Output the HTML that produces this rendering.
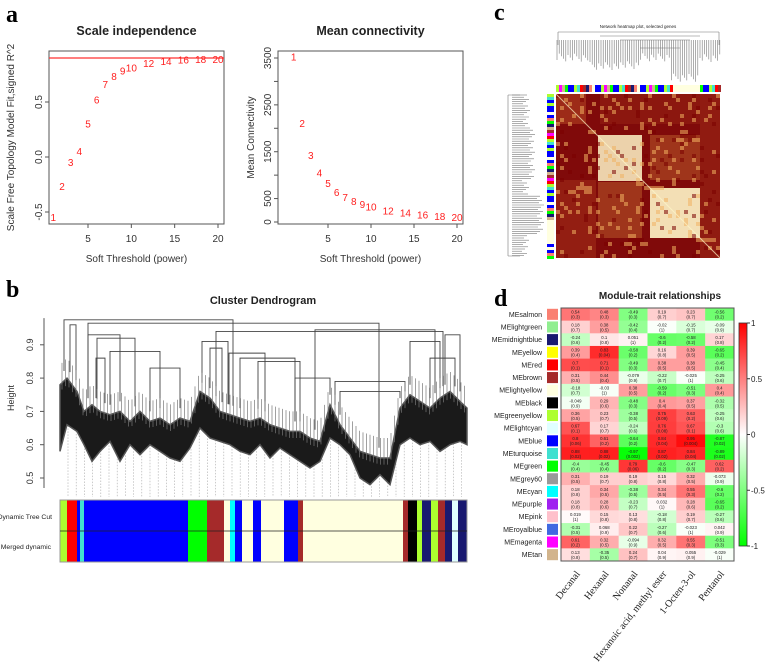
<!DOCTYPE html>
<html><head><meta charset="utf-8">
<style>
html,body{margin:0;padding:0;background:#fff;}
svg{display:block;font-family:"Liberation Sans",Arial,sans-serif;}
</style></head>
<body>
<svg id="fig" width="767" height="670" viewBox="0 0 767 670" xmlns="http://www.w3.org/2000/svg">
<g id="pa"></g>
<g id="pb"></g>
<g id="pc"></g>
<g id="pd"></g>
</svg>
<script>
// ---------- DATA ----------
const powers = [1,2,3,4,5,6,7,8,9,10,12,14,16,18,20];
const sftFit = [-0.55,-0.27,-0.05,0.05,0.30,0.52,0.66,0.73,0.78,0.81,0.85,0.87,0.88,0.885,0.885];
const meanK = [3520,2100,1420,1050,820,630,520,440,370,320,240,190,150,120,100];
const cutHeight = 0.9;
const fitTicks = [-0.5,0,0.5];
const kTicks = [0,500,1000,1500,2000,2500,3000,3500];
const kTickLabels = ["0","500","","1500","","2500","","3500"];
const powerTicks = [5,10,15,20];

const dendTicks = [0.5,0.6,0.7,0.8,0.9];
const envX = [60,67,77,84,92,100,110,120,130,140,150,160,170,180,190,200,210,220,230,240,250,260,270,280,290,300,310,320,330,340,350,360,370,380,390,400,410,420,430,440,450,460,467];
const envLow = [0.58,0.66,0.64,0.6,0.55,0.58,0.61,0.55,0.6,0.57,0.6,0.58,0.56,0.55,0.59,0.65,0.62,0.61,0.6,0.58,0.57,0.6,0.56,0.59,0.57,0.55,0.53,0.55,0.62,0.6,0.57,0.5,0.48,0.51,0.48,0.6,0.62,0.6,0.61,0.58,0.6,0.61,0.6];
const envHigh = [0.78,0.8,0.76,0.7,0.72,0.7,0.69,0.7,0.67,0.7,0.67,0.68,0.66,0.68,0.67,0.76,0.74,0.7,0.69,0.68,0.67,0.68,0.66,0.65,0.64,0.64,0.62,0.61,0.72,0.66,0.62,0.58,0.57,0.56,0.56,0.71,0.75,0.73,0.71,0.74,0.76,0.73,0.71];
const merges = [[64,233,0.975],[88,379,0.965],[216,443,0.94],[315,435,0.945],[70,76,0.96],[88,120,0.93],[97,135,0.92],[110,160,0.88],[96,105,0.86],[202,228,0.91],[229,265,0.875],[240,295,0.86],[210,222,0.89],[295,330,0.8],[340,400,0.76],[335,405,0.79],[410,440,0.91],[430,455,0.86],[445,460,0.93],[150,180,0.83],[258,300,0.85]];
const modStart = [60,67,77,80,84,188,207,224,230,235,242,253,261,284,298,303,403,408,417,422,431,438,445,452,458];
const modColor = ["#adff2f","#ff0000","#0000ff","#40e0d0","#0000ff","#00ff00","#a52a2a","#ffffe0","#00ffff","#0000ff","#ffffe0","#0000ff","#ffffe0","#0000ff","#a52a2a","#ffffe0","#a52a2a","#000000","#adff2f","#191970","#adff2f","#a52a2a","#191970","#e0ffff","#191970"];
const modEnd = 467;

const traits = ["Decanal","Hexanal","Nonanal","Hexanoic acid, methyl ester","1-Octen-3-ol","Pentanol"];
const modules = ["MEsalmon","MElightgreen","MEmidnightblue","MEyellow","MEred","MEbrown","MElightyellow","MEblack","MEgreenyellow","MElightcyan","MEblue","MEturquoise","MEgreen","MEgrey60","MEcyan","MEpurple","MEpink","MEroyalblue","MEmagenta","MEtan"];
const moduleColors = ["#fa8072","#90ee90","#191970","#ffff00","#ff0000","#a52a2a","#ffffe0","#000000","#adff2f","#e0ffff","#0000ff","#40e0d0","#00ff00","#999999","#00ffff","#a020f0","#ffc0cb","#4169e1","#ff00ff","#d2b48c"];
const corr = [
[0.54,0.48,-0.49,0.19,0.23,-0.56],
[0.18,0.38,-0.42,-0.02,-0.15,-0.09],
[-0.24,0.1,0.051,-0.6,-0.58,0.17],
[0.39,0.83,-0.58,0.16,0.39,-0.65],
[0.7,0.71,-0.49,0.38,0.38,-0.45],
[0.31,0.44,-0.079,-0.22,-0.025,-0.25],
[-0.18,-0.03,0.38,-0.59,-0.51,0.4],
[-0.049,0.29,-0.48,0.4,0.37,-0.32],
[0.36,0.23,-0.38,0.75,0.63,-0.25],
[0.67,0.17,-0.24,0.76,0.67,-0.3],
[0.8,0.61,-0.64,0.84,0.95,-0.87],
[0.88,0.88,-0.97,0.87,0.84,-0.89],
[-0.4,-0.45,0.79,-0.6,-0.47,0.62],
[0.31,0.19,0.19,0.15,0.32,-0.073],
[0.18,0.34,-0.38,0.34,0.55,-0.6],
[0.18,0.28,-0.23,0.032,0.28,-0.65],
[0.019,0.15,0.13,-0.18,0.19,-0.27],
[-0.31,0.068,0.22,-0.27,-0.023,0.042],
[0.61,0.32,-0.094,0.32,0.55,-0.51],
[0.13,-0.35,0.24,0.04,0.055,-0.029]];
const pvals = [
["0.3","0.3","0.3","0.7","0.7","0.2"],
["0.7","0.5","0.4","1","0.7","0.9"],
["0.6","0.8","1","0.2","0.2","0.8"],
["0.4","0.04","0.2","0.8","0.5","0.2"],
["0.1","0.1","0.3","0.5","0.5","0.4"],
["0.5","0.4","0.9","0.7","1","0.6"],
["0.7","1","0.5","0.2","0.3","0.4"],
["0.9","0.6","0.3","0.4","0.5","0.5"],
["0.5","0.7","0.5","0.09","0.2","0.6"],
["0.1","0.7","0.6","0.08","0.1","0.6"],
["0.06","0.2","0.2","0.04","0.004","0.02"],
["0.02","0.02","0.002","0.02","0.04","0.02"],
["0.4","0.4","0.06","0.2","0.3","0.2"],
["0.5","0.7","0.8","0.8","0.5","0.9"],
["0.8","0.5","0.5","0.5","0.3","0.2"],
["0.8","0.6","0.7","1","0.6","0.2"],
["1","0.8","0.8","0.8","0.7","0.6"],
["0.5","0.9","0.7","0.6","1","0.9"],
["0.2","0.5","0.9","0.5","0.3","0.3"],
["0.8","0.5","0.7","0.9","0.9","1"]];
const cbTicks = [1,0.5,0,-0.5,-1];
const cbLabels = ["1","0.5","0","-0.5","-1"];

// ---------- HELPERS ----------
const NS="http://www.w3.org/2000/svg";
function mk(parent,tag,attrs,text){const e=document.createElementNS(NS,tag);for(const k in attrs)e.setAttribute(k,attrs[k]);if(text!==undefined)e.textContent=text;parent.appendChild(e);return e;}

// ---------- PANEL A ----------
const pa=document.getElementById('pa');
let t=mk(pa,'text',{x:6,y:22,'font-family':'Liberation Serif,serif','font-size':24,'font-weight':'bold'},'a');


function scatterPlot(opt){
  const g=mk(pa,'g',{});
  
  
  const xs=v=>opt.x0+(v-5)*(opt.x20-opt.x0)/15;
  const ys=v=>opt.yA+(v-opt.vA)*(opt.yB-opt.yA)/(opt.vB-opt.vA);
  let e=mk(g,'text',{x:(opt.L+opt.R)/2,y:35,'text-anchor':'middle','font-size':12.5,'font-weight':'bold',fill:'#222'},opt.title);
  
  
  e=mk(g,'rect',{x:opt.L,y:opt.T,width:opt.R-opt.L,height:opt.B-opt.T,fill:'none',stroke:'#555','stroke-width':1});
  
  
  powerTicks.forEach(v=>{
    mk(g,'line',{x1:xs(v),x2:xs(v),y1:opt.B,y2:opt.B+4,stroke:'#555'});
    e=mk(g,'text',{x:xs(v),y:242,'text-anchor':'middle','font-size':10,fill:'#333'},v);
    
    
  });
  opt.yticks.forEach((v,i)=>{
    mk(g,'line',{x1:opt.L-4,x2:opt.L,y1:ys(v),y2:ys(v),stroke:'#555'});
    const lab=opt.ylabels[i];
    if(lab!==""){
      e=mk(g,'text',{x:opt.L-7,y:ys(v),'text-anchor':'middle','font-size':10,fill:'#333',transform:`rotate(-90 ${opt.L-7} ${ys(v)})`},lab);
      
      
    }
  });
  e=mk(g,'text',{x:(opt.L+opt.R)/2,y:262,'text-anchor':'middle','font-size':10,fill:'#333'},'Soft Threshold (power)');
  
  
  const cy=(opt.T+opt.B)/2;
  e=mk(g,'text',{x:opt.ylabX,y:cy,'text-anchor':'middle','font-size':10,fill:'#333',transform:`rotate(-90 ${opt.ylabX} ${cy})`},opt.ylab);
  
  
  if(opt.hline!==undefined){
    e=mk(g,'line',{x1:opt.L,x2:opt.R,y1:ys(opt.hline),y2:ys(opt.hline),stroke:'#ff3030','stroke-width':1.2});
    
    
  }
  powers.forEach((p,i)=>{
    e=mk(g,'text',{x:xs(p),y:ys(opt.vals[i])+3.5,'text-anchor':'middle','font-size':10,fill:'#ff2020'},p);
    
    
  });
}
scatterPlot({name:'scale-independence-plot',title:'Scale independence',L:49,R:224,T:51,B:224,x0:88,x20:218,yA:157,vA:0,yB:102,vB:0.5,yticks:fitTicks,ylabels:["-0.5","0.0","0.5"],ylab:'Scale Free Topology Model Fit,signed R^2',ylabX:14,vals:sftFit,hline:cutHeight});
scatterPlot({name:'mean-connectivity-plot',title:'Mean connectivity',L:278,R:463,T:51,B:224,x0:328,x20:457,yA:222,vA:0,yB:58,vB:3500,yticks:kTicks,ylabels:kTickLabels,ylab:'Mean Connectivity',ylabX:254,vals:meanK});

// ---------- PANEL B ----------
const pb=document.getElementById('pb');
t=mk(pb,'text',{x:6,y:297,'font-family':'Liberation Serif,serif','font-size':24,'font-weight':'bold'},'b');


t=mk(pb,'text',{x:263,y:304,'text-anchor':'middle','font-size':11,'font-weight':'bold',fill:'#222'},'Cluster Dendrogram');


const hy=h=>478-(h-0.5)*333;
t=mk(pb,'line',{x1:44,x2:44,y1:hy(0.98),y2:hy(0.47),stroke:'#555'});


dendTicks.forEach(v=>{
  mk(pb,'line',{x1:40,x2:44,y1:hy(v),y2:hy(v),stroke:'#555'});
  const e=mk(pb,'text',{x:33,y:hy(v),'text-anchor':'middle','font-size':9,fill:'#333',transform:`rotate(-90 33 ${hy(v)})`},v.toFixed(1));
  
  
});
t=mk(pb,'text',{x:14,y:398,'text-anchor':'middle','font-size':9,fill:'#333',transform:'rotate(-90 14 398)'},'Height');


function envAt(arr,x){for(let i=0;i<envX.length-1;i++){if(x>=envX[i]&&x<=envX[i+1]){const f=(x-envX[i])/(envX[i+1]-envX[i]);return arr[i]+f*(arr[i+1]-arr[i]);}}return arr[arr.length-1];}
const leaves=mk(pb,'g',{stroke:'#aaa','stroke-width':0.6,'stroke-dasharray':'1.5,1.5'});


for(let x=68;x<466;x+=8.2){mk(leaves,'line',{x1:x,x2:x,y1:hy(envAt(envLow,x)),y2:497});}
const mg=mk(pb,'g',{stroke:'#444','stroke-width':0.9,fill:'none'});


merges.forEach(m=>{
  const [a,b,h]=m;
  const e=mk(mg,'path',{d:`M${a},${hy(envAt(envHigh,a)+0.03)}V${hy(h)}H${b}V${hy(envAt(envHigh,b)+0.03)}`});
  
  
});
let pts=envX.map((x,i)=>`${x},${hy(envHigh[i])}`).concat(envX.slice().reverse().map((x,i)=>`${x},${hy(envLow[envX.length-1-i])}`));
t=mk(pb,'polygon',{points:pts.join(' '),fill:'#1a1a1a',stroke:'#555','stroke-width':1.5});


const vg=mk(pb,'g',{stroke:'#777','stroke-width':0.7});


for(let x=62;x<466;x+=3.5){const hi=envAt(envHigh,x);mk(vg,'line',{x1:x,x2:x,y1:hy(hi+0.06),y2:hy(hi-0.02)});}
const bars=mk(pb,'g',{});


modStart.forEach((s,i)=>{
  const e=mk(bars,'rect',{x:s,y:500,width:(i<modStart.length-1?modStart[i+1]:modEnd)-s,height:62,fill:modColor[i]});
  
  
});
mk(bars,'rect',{x:60,y:500,width:407,height:62,fill:'none',stroke:'#999','stroke-width':1});
mk(bars,'line',{x1:60,x2:467,y1:531,y2:531,stroke:'#222','stroke-width':0.8});
t=mk(pb,'text',{x:52,y:519,'text-anchor':'end','font-size':6.8,fill:'#222'},'Dynamic Tree Cut');


t=mk(pb,'text',{x:51,y:549,'text-anchor':'end','font-size':6.8,fill:'#222'},'Merged dynamic');



// ---------- PANEL C ----------
const pc=document.getElementById('pc');
t=mk(pc,'text',{x:494,y:20,'font-family':'Liberation Serif,serif','font-size':24,'font-weight':'bold'},'c');


t=mk(pc,'text',{x:638,y:28,'text-anchor':'middle','font-size':4.5,fill:'#222'},'Network heatmap plot, selected genes');


const topD=mk(pc,'g',{stroke:'#777','stroke-width':0.6,fill:'none'});


mk(topD,'path',{d:'M558,32H719M558,32V45M719,32V45M600,36H700M620,40H690M640,48H680'});
for(let x=557;x<720;x+=2.2){const depth=(x>670&&x<700)?82:(x>590&&x<640?70:62);mk(topD,'line',{x1:x,x2:x,y1:40,y2:depth-((x*7)%9)});}
const leftD=mk(pc,'g',{stroke:'#777','stroke-width':0.6,fill:'none'});


mk(leftD,'path',{d:'M508,95V256M508,95H520M508,256H520'});
for(let y=95;y<257;y+=2.2){const w=(y>195&&y<235)?545:(y>130&&y<180?536:530);mk(leftD,'line',{x1:512,x2:w-((y*5)%8),y1:y,y2:y});}
const cbarCols=["#adff2f","#0000ff","#fa8072","#a52a2a","#40e0d0","#0000ff","#00ff00","#ff00ff","#0000ff","#ffffe0","#191970","#ff0000","#adff2f","#0000ff","#d2b48c"];
const hc=mk(pc,'g',{});


for(let i=0;i<55;i++){mk(hc,'rect',{x:556+i*3,y:85,width:3,height:7,fill:(i>38&&i<48)?'#ffffe0':cbarCols[(i*7)%cbarCols.length]});}
for(let i=0;i<55;i++){mk(hc,'rect',{x:547,y:94+i*3,width:7,height:3,fill:(i>41&&i<50)?'#ffffe0':cbarCols[(i*4)%cbarCols.length]});}
const hm=mk(pc,'g',{});


mk(hm,'rect',{x:556,y:94,width:164,height:164,fill:'#800a0a'});
const blocks=[[598,135,44,46,'#fff6c8',0.85],[650,188,50,50,'#fff6c8',0.9],[556,94,30,30,'#e07a3a',0.3],[598,182,44,56,'#d9883c',0.35],[650,135,50,45,'#d9883c',0.35],[556,180,40,78,'#c05028',0.3],[700,94,20,164,'#c05028',0.25],[600,94,100,30,'#b04020',0.25]];
blocks.forEach(b=>{mk(hm,'rect',{x:b[0],y:b[1],width:b[2],height:b[3],fill:b[4],opacity:b[5]});});
// texture
for(let i=0;i<41;i++){for(let j=0;j<41;j++){const h=(i*37+j*61+(i*j)%13)%17;if(h<3){mk(hm,'rect',{x:556+i*4,y:94+j*4,width:4,height:4,fill:h===0?'#7a0000':'#f0b060',opacity:0.55});}}}
mk(hm,'line',{x1:556,y1:94,x2:720,y2:258,stroke:'#fff6c8','stroke-width':1,opacity:0.7});

// ---------- PANEL D ----------
const pd=document.getElementById('pd');
t=mk(pd,'text',{x:494,y:306,'font-family':'Liberation Serif,serif','font-size':24,'font-weight':'bold'},'d');


t=mk(pd,'text',{x:660,y:299,'text-anchor':'middle','font-size':10,'font-weight':'bold',fill:'#222'},'Module-trait relationships');


const HL=561,HR=734,HT=308,HB=561;
const cw=(HR-HL)/traits.length, rh=(HB-HT)/modules.length;
function corrColor(r){const a=Math.min(1,Math.abs(r));const c=Math.round(255*(1-a));return r>=0?`rgb(255,${c},${c})`:`rgb(${c},255,${c})`;}
modules.forEach((m,i)=>{
  const cy=HT+rh*(i+0.5);
  let e=mk(pd,'text',{x:542,y:cy+2.5,'text-anchor':'end','font-size':7,fill:'#222'},m);
  
  
  e=mk(pd,'rect',{x:547,y:HT+rh*i+0.8,width:11,height:rh-1.6,fill:moduleColors[i]});
  
  
  traits.forEach((tr,j)=>{
    const r=corr[i][j];
    e=mk(pd,'rect',{x:HL+cw*j,y:HT+rh*i,width:cw+0.3,height:rh+0.3,fill:corrColor(r)});
    
    
    e=mk(pd,'text',{x:HL+cw*(j+0.5),y:cy-0.6,'text-anchor':'middle','font-size':4.3,fill:'#222'},String(r));
    
    
    e=mk(pd,'text',{x:HL+cw*(j+0.5),y:cy+4.4,'text-anchor':'middle','font-size':4.3,fill:'#222'},'('+pvals[i][j]+')');
    
    
  });
});
t=mk(pd,'rect',{x:HL,y:HT,width:HR-HL,height:HB-HT,fill:'none',stroke:'#555','stroke-width':1});


traits.forEach((tr,j)=>{
  const x=HL+cw*(j+0.5)+5, y=574;
  const e=mk(pd,'text',{x:x,y:y,'text-anchor':'end','font-family':'Liberation Serif,serif','font-size':10,fill:'#222',transform:`rotate(-52 ${x} ${y})`},tr);
  
  
});
const defs=mk(pd,'defs',{});
const lg=mk(defs,'linearGradient',{id:'cbg',x1:0,y1:0,x2:0,y2:1});
mk(lg,'stop',{offset:'0%','stop-color':'#ff0000'});
mk(lg,'stop',{offset:'50%','stop-color':'#ffffff'});
mk(lg,'stop',{offset:'100%','stop-color':'#00ff00'});
const CBT=323,CBB=546;
const cby=v=>CBT+(1-v)/2*(CBB-CBT);
t=mk(pd,'rect',{x:739,y:CBT,width:8,height:CBB-CBT,fill:'url(#cbg)',stroke:'#333','stroke-width':0.8});


cbTicks.forEach((v,i)=>{
  mk(pd,'line',{x1:747,x2:750,y1:cby(v),y2:cby(v),stroke:'#333'});
  const e=mk(pd,'text',{x:751,y:cby(v)+3,'font-size':8,fill:'#222'},cbLabels[i]);
  
  
});
</script>
</body></html>
